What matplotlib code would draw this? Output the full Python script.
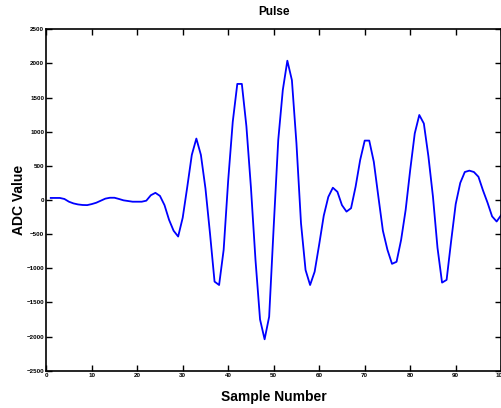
import numpy as np
import matplotlib.pyplot as plt

plt.rcParams['font.family'] = ['Liberation Sans', 'DejaVu Sans']

samples = np.arange(1, 101)
adc = [30, 30, 30, 15, -25, -50, -65, -73, -75, -60,
       -40, -10, 20, 33, 33, 15, -5, -15, -25, -25,
       -25, -10, 70, 105, 60, -75, -290, -450, -535, -260,
       190, 660, 900, 660, 170, -490, -1195, -1245, -730, 290,
       1145, 1700, 1700, 1080, 180, -880, -1750, -2040, -1710, -390,
       880, 1610, 2040, 1755, 830, -340, -1025, -1245, -1050, -650,
       -230, 45, 180, 120, -75, -170, -120, 195, 585, 870,
       870, 560, 50, -450, -730, -935, -905, -585, -145, 440,
       975, 1245, 1120, 640, 50, -700, -1210, -1170, -600, -60,
       250, 410, 430, 410, 340, 140, -40, -240, -315, -220]
xticks = np.arange(0, 101, 10)
yticks = np.arange(-2500, 2501, 500)

fig = plt.figure(figsize=(5.01, 4.08), dpi=100)
ax = fig.add_axes([46.2 / 501, 1 - 370.7 / 408, 455 / 501, 341.4 / 408])

ax.plot(samples, adc, color='#0000ff', lw=1.3)

ax.set_xlim(0, 100)
ax.set_ylim(-2500, 2500)
ax.set_xticks(xticks)
ax.set_yticks(yticks)
ax.tick_params(direction='in', top=True, right=True, length=4, width=1,
               labelsize=4.5, pad=1.5)
for lab in ax.get_xticklabels() + ax.get_yticklabels():
    lab.set_fontweight('bold')
for s in ax.spines.values():
    s.set_linewidth(1.2)

ax.set_title('Pulse', fontsize=8.5, fontweight='bold', pad=10)
ax.set_xlabel('Sample Number', fontsize=10, fontweight='bold', labelpad=9)
ax.set_ylabel('ADC Value', fontsize=10, fontweight='bold', labelpad=0)

fig.savefig('out.png', dpi=100)
